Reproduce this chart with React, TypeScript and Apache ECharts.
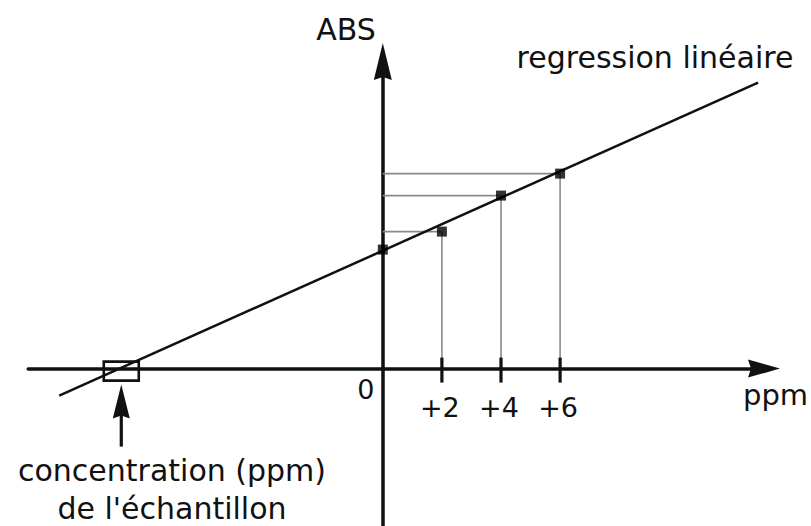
import React, { useEffect, useRef } from 'react';
import * as echarts from 'echarts';

// ---- data ----
const additions = [0, 2, 4, 6]; // ppm added
const absorbances = [0.119, 0.137, 0.173, 0.195]; // ABS
const tickLabels = ['0', '+2', '+4', '+6'];
const regressionX = [-10.95, 12.7];
const regressionY = [-0.027, 0.286];
const sampleConcentration = [-8.85]; // x-intercept (ppm)
const xRange = [-12, 12.9];
const yRange = [-0.16, 0.307];

// ---- layout ----
const X0 = 382.8; // px of ppm = 0
const SX = 29.55; // px per ppm
const Y0 = 368.6; // px of ABS = 0
const SY = 1000; // px per ABS unit

const FONT = '"DejaVu Sans", Verdana, sans-serif';
const INK = '#111111';
const GUIDE = '#8a8a8a';

export default function App() {
  const ref = useRef<HTMLDivElement>(null);

  useEffect(() => {
    if (!ref.current) return;
    const chart = echarts.init(ref.current, null, { renderer: 'svg' });

    const points = additions.map((a, i) => [a, absorbances[i]]);
    const regression = regressionX.map((x, i) => [x, regressionY[i]]);

    const option: any = {
      animation: false,
      backgroundColor: '#ffffff',
      grid: {
        left: X0 + xRange[0] * SX,
        top: Y0 - yRange[1] * SY,
        width: (xRange[1] - xRange[0]) * SX,
        height: (yRange[1] - yRange[0]) * SY,
        containLabel: false,
        outerBoundsMode: 'none',
      },
      xAxis: {
        type: 'value',
        min: xRange[0],
        max: xRange[1],
        axisLine: {
          show: true,
          onZero: true,
          lineStyle: { color: INK, width: 3.5 },
          symbol: ['none', 'path://M9,0L18,32L9,29L0,32Z'],
          symbolSize: [18, 32],
        },
        axisTick: { show: false },
        axisLabel: { show: false },
        splitLine: { show: false },
      },
      yAxis: {
        type: 'value',
        min: yRange[0],
        max: yRange[1],
        axisLine: {
          show: true,
          onZero: true,
          lineStyle: { color: INK, width: 3.5 },
          symbol: ['none', 'path://M9,0L18,37L9,34L0,37Z'],
          symbolSize: [18, 37],
        },
        axisTick: { show: false },
        axisLabel: { show: false },
        splitLine: { show: false },
      },
      series: [
        {
          name: 'guides',
          type: 'custom',
          data: points,
          z: 1,
          renderItem: (params: any, api: any) => {
            const x = api.value(0);
            const y = api.value(1);
            if (x === 0) return { type: 'group', children: [] };
            const p = api.coord([x, y]);
            const onY = api.coord([0, y]);
            const onX = api.coord([x, 0]);
            return {
              type: 'group',
              children: [
                {
                  type: 'line',
                  shape: { x1: onY[0], y1: p[1], x2: p[0], y2: p[1] },
                  style: { stroke: GUIDE, lineWidth: 1.6 },
                },
                {
                  type: 'line',
                  shape: { x1: p[0], y1: p[1], x2: p[0], y2: onX[1] },
                  style: { stroke: GUIDE, lineWidth: 1.6 },
                },
              ],
            };
          },
        },
        {
          name: 'regression linéaire',
          type: 'line',
          data: regression,
          showSymbol: false,
          symbol: 'none',
          z: 2,
          lineStyle: { color: INK, width: 2.5 },
        },
        {
          name: 'standards',
          type: 'scatter',
          data: points,
          symbol: 'rect',
          symbolSize: 10,
          z: 3,
          itemStyle: { color: '#000000' },
        },
        {
          name: 'ticks',
          type: 'custom',
          data: additions.map((a) => [a, 0]),
          z: 4,
          renderItem: (params: any, api: any) => {
            const x = api.value(0);
            const p = api.coord([x, 0]);
            const i = params.dataIndex;
            const isZero = x === 0;
            const children: any[] = [];
            if (!isZero) {
              children.push({
                type: 'line',
                shape: { x1: p[0], y1: p[1] - 11, x2: p[0], y2: p[1] + 14 },
                style: { stroke: INK, lineWidth: 3.2 },
              });
            }
            children.push({
              type: 'text',
              x: p[0] + (isZero ? -17 : -2),
              y: p[1] + (isZero ? 20.5 : 38.5),
              style: {
                text: tickLabels[i],
                fill: INK,
                fontSize: 27,
                fontFamily: FONT,
                align: 'center',
                verticalAlign: 'middle',
              },
            });
            return { type: 'group', children };
          },
        },
        {
          name: 'sample',
          type: 'custom',
          data: sampleConcentration.map((c) => [c, 0]),
          z: 5,
          renderItem: (params: any, api: any) => {
            const p = api.coord([api.value(0), 0]);
            const cx = p[0];
            const cy = p[1];
            return {
              type: 'group',
              children: [
                {
                  type: 'rect',
                  shape: { x: cx - 17.5, y: cy - 7, width: 35, height: 19 },
                  style: { fill: 'none', stroke: INK, lineWidth: 2.6 },
                },
                {
                  type: 'polygon',
                  shape: {
                    points: [
                      [cx, cy + 16],
                      [cx + 8.5, cy + 50],
                      [cx, cy + 47],
                      [cx - 8.5, cy + 50],
                    ],
                  },
                  style: { fill: INK },
                },
                {
                  type: 'line',
                  shape: { x1: cx, y1: cy + 46, x2: cx, y2: cy + 78 },
                  style: { stroke: INK, lineWidth: 3.2 },
                },
              ],
            };
          },
        },
      ],
      graphic: [
        {
          type: 'text',
          x: 346,
          y: 29.5,
          style: { text: 'ABS', fill: INK, fontSize: 30, fontFamily: FONT, align: 'center', verticalAlign: 'middle' },
        },
        {
          type: 'text',
          x: 655,
          y: 57.5,
          style: {
            text: 'regression linéaire',
            fill: INK,
            fontSize: 30,
            fontFamily: FONT,
            align: 'center',
            verticalAlign: 'middle',
          },
        },
        {
          type: 'text',
          x: 775.5,
          y: 395,
          style: { text: 'ppm', fill: INK, fontSize: 29, fontFamily: FONT, align: 'center', verticalAlign: 'middle' },
        },
        {
          type: 'text',
          x: 172,
          y: 470,
          style: {
            text: 'concentration (ppm)',
            fill: INK,
            fontSize: 30,
            fontFamily: FONT,
            align: 'center',
            verticalAlign: 'middle',
          },
        },
        {
          type: 'text',
          x: 172,
          y: 508.5,
          style: {
            text: "de l'échantillon",
            fill: INK,
            fontSize: 30,
            fontFamily: FONT,
            align: 'center',
            verticalAlign: 'middle',
          },
        },
      ],
    };

    chart.setOption(option);
    return () => chart.dispose();
  }, []);

  return (
    <div
      ref={ref}
      style={{ position: 'fixed', left: 0, top: 0, width: 811, height: 526, background: '#fff' }}
    />
  );
}
